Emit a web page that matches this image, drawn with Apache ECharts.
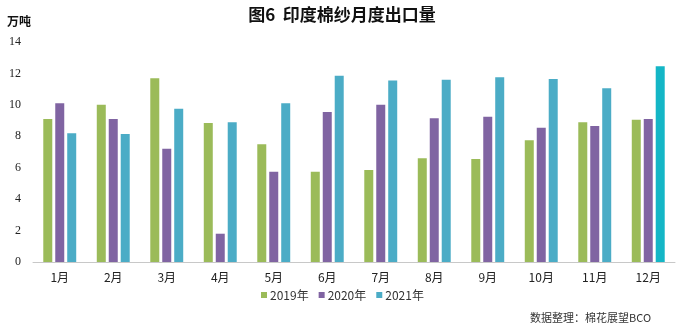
<!DOCTYPE html>
<html>
<head>
<meta charset="utf-8">
<script src="https://cdn.jsdelivr.net/npm/echarts@6/dist/echarts.min.js"></script>
<style>
  html, body { margin: 0; padding: 0; background: #fff; }
  #chart { width: 684px; height: 333px; }
</style>
</head>
<body>
<div id="chart"></div>
<script>
// 月份与三年出口量（万吨）
const months = ['1月', '2月', '3月', '4月', '5月', '6月', '7月', '8月', '9月', '10月', '11月', '12月'];
const y2019 = [9.1, 10.0, 11.7, 8.85, 7.5, 5.75, 5.85, 6.6, 6.55, 7.75, 8.9, 9.05];
const y2020 = [10.1, 9.1, 7.2, 1.8, 5.75, 9.55, 10.0, 9.15, 9.25, 8.55, 8.65, 9.1];
const y2021 = [8.2, 8.15, 9.75, 8.9, 10.1, 11.85, 11.55, 11.6, 11.75, 11.65, 11.05, 12.45];

const chart = echarts.init(document.getElementById('chart'), null, { renderer: 'canvas' });
const FONT = '"Noto Sans CJK SC", sans-serif';

// 12月 2021 柱子颜色略亮
const d2021 = y2021.map((v, i) => i === 11 ? { value: v, itemStyle: { color: '#14b6c6' } } : v);

chart.setOption({
  animation: false,
  title: {
    text: '图6  印度棉纱月度出口量',
    left: 'center', top: 1,
    textStyle: { fontFamily: FONT, fontSize: 17, fontWeight: 'bold', color: '#111' }
  },
  graphic: [
    { type: 'text', left: 7, top: 15, style: { text: '万吨', font: 'bold 12px "Noto Sans CJK SC"', fill: '#111' } },
    { type: 'text', left: 530, top: 312, style: { text: '数据整理：棉花展望BCO', font: '11px "Noto Sans CJK SC"', fill: '#333' } }
  ],
  legend: {
    bottom: 27, left: 256,
    itemWidth: 6, itemHeight: 6, itemGap: 10,
    icon: 'rect',
    textStyle: { fontFamily: FONT, fontSize: 12, color: '#333', padding: [0, 0, 0, -2] },
    data: ['2019年', '2020年', '2021年']
  },
  grid: { left: 33, right: 9, top: 42, bottom: 71 },
  xAxis: {
    type: 'category', data: months,
    axisLine: { lineStyle: { color: '#c8c8c8' } },
    axisTick: { show: false },
    axisLabel: { fontFamily: FONT, fontSize: 12, color: '#222', margin: 9 }
  },
  yAxis: {
    type: 'value', min: 0, max: 14, interval: 2,
    axisLine: { show: false }, axisTick: { show: false },
    splitLine: { show: false },
    axisLabel: { fontFamily: '"Liberation Serif", serif', fontSize: 12, color: '#222', margin: 12 }
  },
  series: [
    { name: '2019年', type: 'bar', data: y2019, barWidth: 9, barGap: '33%', itemStyle: { color: '#9bbb59' } },
    { name: '2020年', type: 'bar', data: y2020, barWidth: 9, barGap: '33%', itemStyle: { color: '#8064a2' } },
    { name: '2021年', type: 'bar', data: d2021, barWidth: 9, barGap: '33%', itemStyle: { color: '#4bacc6' } }
  ]
});
</script>
</body>
</html>
